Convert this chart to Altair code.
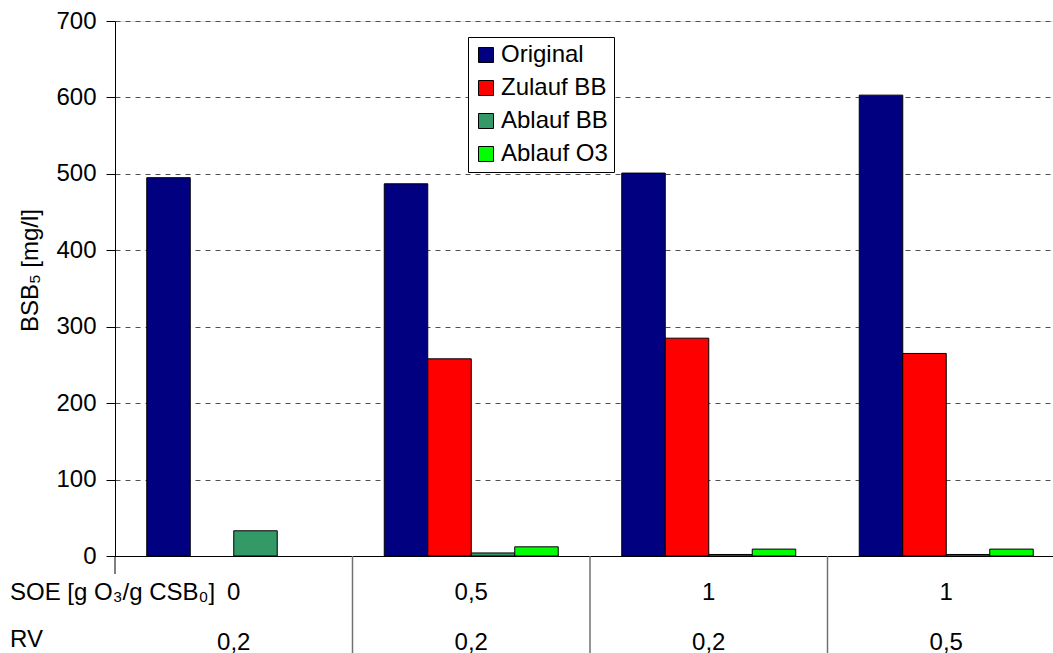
import altair as alt
import pandas as pd

# Experiment settings shown in the table under the bars
soe_labels = ["0", "0,5", "1", "1"]
rv_labels = ["0,2", "0,2", "0,2", "0,5"]

# Measured BSB5 values per sample stage (None = not measured)
series = ["Original", "Zulauf BB", "Ablauf BB", "Ablauf O3"]
original = [495, 487, 501, 603]
zulauf_bb = [None, 258, 285, 265]
ablauf_bb = [33, 4, 2, 2]
ablauf_o3 = [None, 12, 9, 9]

colors = ["#000080", "#FF0000", "#339966", "#00FF00"]
row_titles = ["SOE [g O\u2083/g CSB\u2080]", "RV"]

FONT = "Liberation Sans"
FS = 24
W, H = 938, 535

groups = [f"{s}|{r}" for s, r in zip(soe_labels, rv_labels)]

rows = []
for name, vals in zip(series, [original, zulauf_bb, ablauf_bb, ablauf_o3]):
    for g, v in zip(groups, vals):
        if v is not None:
            rows.append({"group": g, "series": name, "value": v})
df = pd.DataFrame(rows)

x_scale = alt.Scale(domain=groups, range=[0, 950], paddingInner=0, paddingOuter=0)

bars = alt.Chart(df).mark_bar(stroke="black", strokeWidth=1).encode(
    x=alt.X(
        "group:N",
        scale=x_scale,
        axis=alt.Axis(
            title=None,
            ticks=False,
            domainColor="black",
            labelExpr="split(datum.label, '|')",
            labelFont=FONT,
            labelFontSize=FS,
            labelColor="black",
            labelLineHeight=50,
            labelPadding=36,
            labelBaseline="middle",
            labelAngle=0,
        ),
    ),
    xOffset=alt.XOffset(
        "series:N",
        scale=alt.Scale(domain=series, paddingInner=0, paddingOuter=0.73),
    ),
    y=alt.Y(
        "value:Q",
        scale=alt.Scale(domain=[0, 700], nice=False),
        axis=alt.Axis(
            title="BSB\u2085 [mg/l]",
            values=list(range(0, 701, 100)),
            grid=True,
            gridColor="#505050",
            gridDash=[5, 5],
            domainColor="black",
            tickColor="black",
            tickSize=9,
            labelPadding=10,
            labelFont=FONT,
            labelFontSize=FS,
            labelColor="black",
            titleFont=FONT,
            titleFontSize=FS,
            titleFontWeight="normal",
            titleColor="black",
            titleX=-85,
            titleY=249,
            titleAlign="center",
            titleBaseline="middle",
        ),
    ),
    color=alt.Color(
        "series:N",
        scale=alt.Scale(domain=series, range=colors),
        legend=alt.Legend(
            title=None,
            orient="none",
            legendX=353,
            legendY=16,
            fillColor="white",
            strokeColor="black",
            padding=6,
            symbolType="square",
            symbolSize=225,
            symbolStrokeColor="black",
            symbolStrokeWidth=1,
            symbolOpacity=1,
            labelFont=FONT,
            labelFontSize=FS,
            labelColor="black",
            labelOffset=3,
            rowPadding=9,
        ),
    ),
)

# Vertical separators between the table columns
sep_df = pd.DataFrame({"group": groups[1:]})
separators = alt.Chart(sep_df).mark_rule(color="#707070", strokeWidth=1.5).encode(
    x=alt.X("group:N", bandPosition=0, scale=x_scale),
    y=alt.value(H),
    y2=alt.value(H + 97),
)

# Short extension of the value axis below the baseline
axis_ext = alt.Chart(pd.DataFrame({"k": [0]})).mark_rule(color="black").encode(
    x=alt.value(0),
    y=alt.value(H),
    y2=alt.value(H + 18),
)

# Row titles of the settings table
rt_df = pd.DataFrame({"label": row_titles, "row": [0, 1]})
row_base = alt.Chart(rt_df).mark_text(
    align="left", baseline="middle", font=FONT, fontSize=FS, color="black"
)
soe_title = row_base.transform_filter("datum.row == 0").encode(
    text="label:N", x=alt.value(-105), y=alt.value(H + 37)
)
rv_title = row_base.transform_filter("datum.row == 1").encode(
    text="label:N", x=alt.value(-105), y=alt.value(H + 84)
)

chart = (
    alt.layer(bars, separators, axis_ext, soe_title, rv_title)
    .properties(
        width=W,
        height=H,
        autosize=alt.AutoSizeParams(type="none"),
        padding={"left": 115, "top": 21, "right": 0, "bottom": 97},
    )
    .configure_view(stroke="#808080")
    .configure(background="white")
)

chart.save("out.html", embed_options={"renderer": "svg", "actions": False})
